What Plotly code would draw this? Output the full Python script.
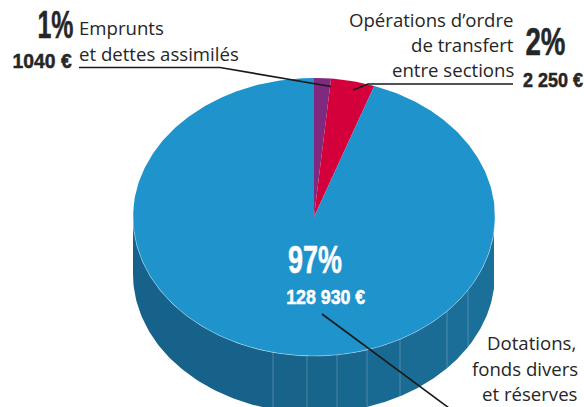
import json
import numpy as np
import plotly.graph_objects as go

# Data
categories = ["Emprunts et dettes assimilés", "Opérations d'ordre de transfert entre sections", "Dotations, fonds divers et réserves"]
labels_pct = ["1%", "2%", "97%"]
labels_eur = ["1040 €", "2 250 €", "128 930 €"]
drawn_share = [1.5, 3.9, 94.6]   # slice sizes as they are drawn in the picture (percent of the turn)
slice_colors = ["#7F2A7E", "#D4003C", "#1F93CC"]

# Geometry (chart space = 584 x 407)
CX, CY, RX, RY, DEPTH = 314, 217, 181, 139, 57
seam_x = [133, 273, 307, 337, 367, 400, 447, 468, 494]
side_colors = ["#17628A", "#17638A", "#18658C", "#18678E", "#196A92", "#1A6C95", "#1B6E97", "#1B7099"]
SANS = "Open Sans, Noto Sans, sans-serif"
COND = "Liberation Sans, sans-serif"
INK = "#262626"

fig = go.Figure()

def lower_y(x):
    return CY + RY * np.sqrt(np.clip(1 - ((x - CX) / RX) ** 2, 0, 1))

# side wall
for a, b, c in zip(seam_x[:-1], seam_x[1:], side_colors):
    t0, t1 = np.arcsin(np.clip((a - CX) / RX, -1, 1)), np.arcsin(np.clip((b - CX) / RX, -1, 1))
    t = np.linspace(t0, t1, 60)
    xs = CX + RX * np.sin(t)
    ys = CY + RY * np.cos(t)
    fig.add_trace(go.Scatter(x=np.r_[xs, xs[::-1]], y=np.r_[ys, ys[::-1] + DEPTH], fill="toself",
                             fillcolor=c, mode="lines", line=dict(width=0), hoverinfo="skip"))
for sx in seam_x[1:-1]:
    fig.add_trace(go.Scatter(x=[sx, sx], y=[lower_y(sx), lower_y(sx) + DEPTH], mode="lines",
                             line=dict(color="rgba(255,255,255,0.22)", width=1), hoverinfo="skip"))

# top face
start = 0.0
for share, c in zip(drawn_share, slice_colors):
    t = np.linspace(start, start + share / 100 * 2 * np.pi, max(8, int(share * 4)))
    xs = np.r_[CX, CX + RX * np.sin(t), CX]
    ys = np.r_[CY, CY - RY * np.cos(t), CY]
    fig.add_trace(go.Scatter(x=xs, y=ys, fill="toself", fillcolor=c, mode="lines",
                             line=dict(width=0), hoverinfo="skip"))
    start += share / 100 * 2 * np.pi

t = np.linspace(1.5, 2 * np.pi - 1.5, 200)
fig.add_trace(go.Scatter(x=CX + RX * np.sin(t), y=CY - RY * np.cos(t), mode="lines",
                         line=dict(color="rgba(210,235,248,0.55)", width=0.8), hoverinfo="skip"))

# leader lines
for lx, ly in [([79, 220, 331], [67.5, 67.5, 86.5]), ([513, 368, 353], [84, 84, 90]), ([322, 449], [314, 408])]:
    fig.add_trace(go.Scatter(x=lx, y=ly, mode="lines", line=dict(color="#1a1a1a", width=1.6), hoverinfo="skip"))

def txt(x, y, s, size, color=INK, family=SANS, anchor="left", bold=False):
    if bold:
        s = "<b>" + s + "</b>"
    fig.add_annotation(x=x, y=y, text=s, showarrow=False, xanchor=anchor, yanchor="middle",
                       font=dict(family=family, size=size, color=color), xref="x", yref="y")

txt(77, 27, "Emprunts", 18.6)
txt(77, 53, "et dettes assimilés", 18.6)
txt(516, 19, "Opérations d’ordre", 18.6, anchor="right")
txt(516, 44, "de transfert", 18.6, anchor="right")
txt(516, 69, "entre sections", 18.6, anchor="right")
txt(578, 342, "Dotations,", 18.6, anchor="right")
txt(580, 368, "fonds divers", 18.6, anchor="right")
txt(580, 393, "et réserves", 18.6, anchor="right")

# condensed figures: widths applied to the real text after drawing
txt(55, 25, labels_pct[0], 38, family=COND, anchor="center", bold=True)
txt(42.5, 60, labels_eur[0], 21, family=COND, anchor="center", bold=True)
txt(545, 42, labels_pct[1], 38, family=COND, anchor="center", bold=True)
txt(553, 79, labels_eur[1], 21, family=COND, anchor="center", bold=True)
txt(315, 260, labels_pct[2], 38, color="white", family=COND, anchor="center", bold=True)
txt(325.5, 296, labels_eur[2], 21, color="white", family=COND, anchor="center", bold=True)

text_widths = dict(zip(labels_pct + labels_eur, [36, 40, 54, 59, 60, 79]))
post = """
document.body.style.margin='0';
var w=%s;
document.querySelectorAll('.annotation-text').forEach(function(t){
  var s=t.textContent; if(w[s]){t.setAttribute('textLength',w[s]);t.setAttribute('lengthAdjust','spacingAndGlyphs');
    t.style.stroke=t.style.fill; t.style.strokeWidth='0.5px';
    t.querySelectorAll('tspan').forEach(function(p){p.setAttribute('textLength',w[s]);p.setAttribute('lengthAdjust','spacingAndGlyphs');});}
});
""" % json.dumps(text_widths)

fig.update_layout(
    width=584, height=407, autosize=False, showlegend=False,
    margin=dict(l=0, r=0, t=0, b=0), paper_bgcolor="white", plot_bgcolor="white",
    xaxis=dict(range=[0, 584], visible=False, fixedrange=True),
    yaxis=dict(range=[407, 0], visible=False, fixedrange=True),
)
fig.write_html("out.html", config=dict(displayModeBar=False), post_script=post)
